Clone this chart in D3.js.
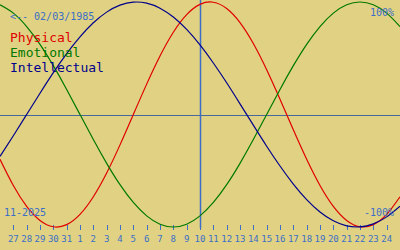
<!DOCTYPE html>
<html><head><meta charset="utf-8">
<script src="https://cdn.jsdelivr.net/npm/d3@7"></script>
<style>html,body{margin:0;padding:0;background:#e0d282;}svg{display:block;}</style>
</head><body>
<script>
// Day offsets from the selected day (Nov 10, 2025)
const days = [-15,-14,-13,-12,-11,-10,-9,-8,-7,-6,-5,-4,-3,-2,-1,0,1,2,3,4,5,6,7,8,9,10,11,12,13,14,15];
const physical = [-0.398,-0.631,-0.817,-0.942,-0.998,-0.979,-0.888,-0.731,-0.520,-0.270,0,0.270,0.520,0.731,0.888,0.979,0.998,0.942,0.817,0.631,0.398,0.136,-0.136,-0.398,-0.631,-0.817,-0.942,-0.998,-0.979,-0.888,-0.731];
const emotional = [0.975,0.901,0.782,0.624,0.434,0.223,0,-0.223,-0.434,-0.624,-0.782,-0.901,-0.975,-1,-0.975,-0.901,-0.782,-0.624,-0.434,-0.223,0,0.223,0.434,0.624,0.782,0.901,0.975,1,0.975,0.901,0.782];
const intellectual = [-0.372,-0.189,0,0.189,0.372,0.541,0.690,0.815,0.910,0.972,0.999,0.990,0.945,0.866,0.756,0.618,0.458,0.282,0.095,-0.095,-0.282,-0.458,-0.618,-0.756,-0.866,-0.945,-0.990,-0.999,-0.972,-0.910,-0.815];
const tickDays = [-14,-13,-12,-11,-10,-9,-8,-7,-6,-5,-4,-3,-2,-1,0,1,2,3,4,5,6,7,8,9,10,11,12,13,14];
const tickLabels = ["27","28","29","30","31","1","2","3","4","5","6","7","8","9","10","11","12","13","14","15","16","17","18","19","20","21","22","23","24"];
const seriesNames = ["Physical","Emotional","Intellectual"];
const seriesColors = ["#e00000","#007800","#00008c"];
const birthLabel = "<-- 02/03/1985";
const monthLabel = "11-2025";

const W = 400, H = 250;
const blue = "#3c6ec8";
const mono = "'DejaVu Sans Mono', monospace";
const svg = d3.select("body").append("svg").attr("width", W).attr("height", H);
svg.append("rect").attr("width", W).attr("height", H).attr("fill", "#e0d282");

const x = d3.scaleLinear().domain([-15, 15]).range([0, W]);
const y = d3.scaleLinear().domain([-1, 1]).range([227, 2]);

// zero line and today line
const y0 = Math.round(y(0)) + 0.5;
svg.append("line").attr("x1", 0).attr("x2", W).attr("y1", y0).attr("y2", y0)
  .attr("stroke", "#46699a").attr("stroke-width", 1);
const x0 = Math.round(x(0)) + 0.5;
svg.append("line").attr("x1", x0).attr("x2", x0).attr("y1", 0).attr("y2", 228)
  .attr("stroke", blue).attr("stroke-width", 1.5);

// ticks
svg.selectAll(".tk").data(tickDays).enter().append("line")
  .attr("x1", d => Math.round(x(d)) + 0.5).attr("x2", d => Math.round(x(d)) + 0.5)
  .attr("y1", 225).attr("y2", 230).attr("stroke", blue).attr("stroke-width", 1);
svg.selectAll(".tl").data(tickDays).enter().append("text")
  .attr("x", d => x(d)).attr("y", 242).attr("text-anchor", "middle")
  .attr("font-family", mono).attr("font-size", 9).attr("fill", blue)
  .text((d, i) => tickLabels[i]);

// curves
const allSeries = [physical, emotional, intellectual];
const line = d3.line().x((v, i) => x(days[i])).y(v => y(v)).curve(d3.curveNatural);
allSeries.forEach((s, i) => {
  svg.append("path").attr("d", line(s)).attr("fill", "none")
    .attr("stroke", seriesColors[i]).attr("stroke-width", 1.2);
});

// texts
svg.append("text").attr("x", 10).attr("y", 20).attr("font-family", mono).attr("font-size", 10)
  .attr("fill", blue).text(birthLabel);
seriesNames.forEach((n, i) => {
  svg.append("text").attr("x", 10).attr("y", 42 + i * 15).attr("font-family", mono)
    .attr("font-size", 13).attr("fill", seriesColors[i]).text(n);
});
svg.append("text").attr("x", 394).attr("y", 16).attr("text-anchor", "end").attr("font-family", mono)
  .attr("font-size", 10).attr("fill", blue).text("100%");
svg.append("text").attr("x", 394).attr("y", 216).attr("text-anchor", "end").attr("font-family", mono)
  .attr("font-size", 10).attr("fill", blue).text("-100%");
svg.append("text").attr("x", 4).attr("y", 216).attr("font-family", mono)
  .attr("font-size", 10).attr("fill", blue).text(monthLabel);
</script>
</body></html>
